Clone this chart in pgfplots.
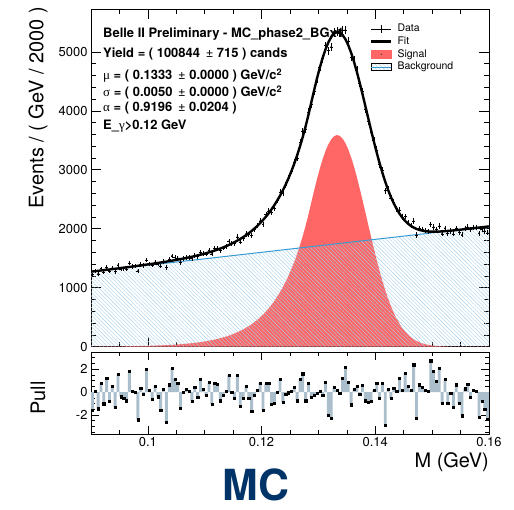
\documentclass[border=0pt]{standalone}
\usepackage{fontspec}
\setmainfont{TeX Gyre Heros}
\newfontfamily\greekf{Liberation Serif}
\usepackage{pgfplots}
\pgfplotsset{compat=1.18}
\usepackage{pgfplotstable}
\usetikzlibrary{patterns.meta}
\definecolor{sigred}{RGB}{255,102,102}
\definecolor{bkgblue}{RGB}{55,155,212}
\definecolor{hatchblue}{RGB}{165,208,232}
\definecolor{pullgray}{RGB}{170,190,204}
\definecolor{mcblue}{RGB}{0,52,104}
\pgfplotsset{/pgf/number format/assume math mode=true}

\pgfplotstableread{
x D p
0.09025 1221 -1.55
0.09075 1285 0.1
0.09125 1235 -1.45
0.09175 1322 0.8
0.09225 1263 -1.0
0.09275 1348 1.2
0.09325 1281 -0.8
0.09375 1337 0.55
0.09425 1275 -1.3
0.09475 1384 1.55
0.09525 1320 -0.4
0.09575 1323 -0.5
0.09625 1319 -0.75
0.09675 1419 1.8
0.09725 1361 0.05
0.09775 1366 0
0.09825 1283 -2.4
0.09875 1392 0.35
0.09925 1378 -0.2
0.09975 1468 2.0
0.10025 1406 0.2
0.10075 1384 -0.6
0.10125 1432 0.5
0.10175 1406 -0.4
0.10225 1368 -1.6
0.10275 1445 0.25
0.10325 1342 -2.65
0.10375 1476 0.65
0.10425 1539 2.1
0.10475 1512 1.15
0.10525 1507 0.8
0.10575 1432 -1.4
0.10625 1495 0
0.10675 1515 0.25
0.10725 1517 0.05
0.10775 1495 -0.8
0.10825 1552 0.4
0.10875 1530 -0.45
0.10925 1603 1.1
0.10975 1583 0.25
0.11025 1574 -0.3
0.11075 1634 0.85
0.11125 1573 -1.05
0.11175 1663 0.8
0.11225 1675 0.7
0.11275 1634 -0.75
0.11325 1674 -0.25
0.11375 1706 0.05
0.11425 1787 1.5
0.11475 1749 0
0.11525 1752 -0.5
0.11575 1864 1.5
0.11625 1776 -1.2
0.11675 1836 -0.5
0.11725 1912 0.5
0.11775 1904 -0.5
0.11825 1890 -1.65
0.11875 1992 -0.3
0.11925 2057 0.2
0.11975 2134 0.8
0.12025 2076 -1.55
0.12075 2239 0.75
0.12125 2302 0.8
0.12175 2279 -1.05
0.12225 2354 -0.95
0.12275 2479 0
0.12325 2618 1.1
0.12375 2610 -0.85
0.12425 2744 -0.15
0.12475 2858 -0.05
0.12525 2980 0.05
0.12575 3127 0.4
0.12625 3201 -0.75
0.12675 3462 1.15
0.12725 3655 1.6
0.12775 3693 -0.75
0.12825 3981 0.75
0.12875 4116 -0.45
0.12925 4336 -0.25
0.12975 4545 -0.1
0.13025 4739 0.05
0.13075 4884 -0.25
0.13125 5105 0.85
0.13175 5020 -2.0
0.13225 5085 -2.3
0.13275 5340 0.4
0.13325 5351 0.2
0.13375 5322 -0.1
0.13425 5374 1.2
0.13475 5375 2.2
0.13525 5178 0.9
0.13575 4909 -1.1
0.13625 4853 0.25
0.13675 4700 0.5
0.13725 4470 -0.15
0.13775 4324 0.6
0.13825 4035 -0.75
0.13875 3824 -0.9
0.13925 3630 -0.8
0.13975 3493 0.2
0.14025 3339 0.8
0.14075 3087 -0.5
0.14125 2991 0.75
0.14175 2646 -2.9
0.14225 2674 0.25
0.14275 2515 -0.5
0.14325 2448 0.35
0.14375 2341 0.05
0.14425 2315 1.2
0.14475 2200 0.2
0.14525 2210 1.65
0.14575 2111 0.5
0.14625 2059 0.2
0.14675 2130 2.4
0.14725 1895 -2.3
0.14775 2011 0.65
0.14825 1987 0.4
0.14875 1969 0.2
0.14925 1957 0.05
0.14975 2074 2.75
0.15025 2031 1.8
0.15075 1994 0.95
0.15125 2046 2.1
0.15175 1915 -0.95
0.15225 2009 1.1
0.15275 1922 -0.95
0.15325 1964 -0.1
0.15375 1915 -1.3
0.15425 2007 0.65
0.15475 1941 -0.95
0.15525 1897 -2.05
0.15575 2007 0.3
0.15625 2030 0.7
0.15675 1985 -0.45
0.15725 2019 0.2
0.15775 2018 0.05
0.15825 1922 -2.2
0.15875 1991 -0.8
0.15925 1964 -1.5
0.15975 1932 -2.35
}\datatab

\pgfplotstableread{
x S F
0.09000 2.6 1274
0.09025 2.7 1276
0.09075 2.9 1281
0.09125 3.2 1287
0.09175 3.5 1293
0.09225 3.8 1299
0.09275 4 1305
0.09325 4.5 1310
0.09375 5 1317
0.09425 5.5 1322
0.09475 6 1328
0.09525 6.5 1335
0.09575 7 1341
0.09625 8 1347
0.09675 8.5 1353
0.09725 9 1359
0.09775 10 1366
0.09825 11 1372
0.09875 12 1379
0.09925 13 1385
0.09975 15 1393
0.10025 16 1399
0.10075 17 1406
0.10125 19 1413
0.10175 21 1421
0.10225 23 1428
0.10275 25 1436
0.10325 27 1443
0.10375 29 1451
0.10425 32 1459
0.10475 35 1468
0.10525 38 1476
0.10575 42 1486
0.10625 46 1495
0.10675 50 1505
0.10725 55 1515
0.10775 60 1526
0.10825 65 1536
0.10875 71 1548
0.10925 78 1560
0.10975 85 1573
0.11025 93 1586
0.11075 101 1600
0.11125 111 1615
0.11175 121 1631
0.11225 132 1647
0.11275 144 1665
0.11325 158 1684
0.11375 172 1704
0.11425 188 1725
0.11475 206 1749
0.11525 225 1773
0.11575 246 1800
0.11625 268 1827
0.11675 293 1858
0.11725 320 1890
0.11775 350 1926
0.11825 382 1963
0.11875 418 2005
0.11925 456 2048
0.11975 499 2097
0.12025 545 2148
0.12075 595 2204
0.12125 650 2264
0.12175 710 2330
0.12225 776 2401
0.12275 848 2479
0.12325 926 2562
0.12375 1012 2654
0.12425 1105 2752
0.12475 1208 2861
0.12525 1319 2977
0.12575 1441 3105
0.12625 1575 3244
0.12675 1720 3395
0.12725 1879 3559
0.12775 2053 3739
0.12825 2243 3934
0.12875 2448 4145
0.12925 2651 4353
0.12975 2844 4552
0.13025 3023 4736
0.13075 3183 4902
0.13125 3321 5045
0.13175 3434 5164
0.13225 3517 5252
0.13275 3570 5311
0.13325 3590 5336
0.13375 3577 5329
0.13425 3530 5287
0.13475 3453 5216
0.13525 3346 5114
0.13575 3213 4987
0.13625 3057 4836
0.13675 2881 4666
0.13725 2690 4480
0.13775 2489 4285
0.13825 2282 4083
0.13875 2073 3880
0.13925 1866 3678
0.13975 1663 3481
0.14025 1470 3293
0.14075 1286 3115
0.14125 1116 2950
0.14175 959 2799
0.14225 816 2661
0.14275 689 2540
0.14325 575 2431
0.14375 477 2339
0.14425 391 2258
0.14475 318 2191
0.14525 256 2134
0.14575 204 2088
0.14625 161 2050
0.14675 127 2022
0.14725 98 1998
0.14775 76 1982
0.14825 58 1969
0.14875 43 1960
0.14925 33 1955
0.14975 24 1952
0.15025 18 1951
0.15075 13 1952
0.15125 9 1953
0.15175 7 1957
0.15225 5 1960
0.15275 3 1964
0.15325 2 1968
0.15375 1.5 1973
0.15425 1 1978
0.15475 0.5 1983
0.15525 0 1988
0.15575 0 1994
0.15625 0 1999
0.15675 0 2005
0.15725 0 2010
0.15775 0 2016
0.15825 0 2021
0.15875 0 2027
0.15925 0 2032
0.15975 0 2038
0.16000 0 2040
}\curvetab

\begin{document}
\begin{tikzpicture}
\useasboundingbox (0,0) rectangle (514bp,510bp);
% ---------------- main panel ----------------
\begin{axis}[
  at={(91bp,163.3bp)}, anchor=south west, scale only axis,
  width=398bp, height=337.2bp,
  xmin=0.09, xmax=0.16, ymin=0, ymax=5720,
  xtick={0.1,0.12,0.14,0.16},
  minor xtick={0.095,0.105,0.11,0.115,0.125,0.13,0.135,0.145,0.15,0.155},
  xticklabels={},
  ytick={0,1000,2000,3000,4000,5000}, minor y tick num=4,
  scaled x ticks=false, scaled y ticks=false,
  yticklabel style={font=\fontsize{13}{15}\selectfont, /pgf/number format/1000 sep={}},
  tick align=inside, major tick length=10bp, minor tick length=5bp,
  axis line style={line width=0.8bp}, tick style={black, line width=0.7bp},
  ylabel={Events / ( GeV / 2000 )},
  ylabel style={at={(axis description cs:-0.1332,1.0074)}, anchor=east, inner sep=0pt, font=\fontsize{20}{24}\selectfont},
  legend style={at={(axis description cs:0.701,0.957)}, anchor=north west, draw=none, fill=none,
    font=\fontsize{10.5}{12}\selectfont, inner sep=0pt, row sep=3.2bp, column sep=5bp,
    cells={anchor=west}, nodes={inner sep=0pt, text height=7.5bp, text depth=2bp}},
]
\addplot[fill=sigred, draw=none, forget plot] table[x=x,y=S]{\curvetab} \closedcycle;
\addplot[draw=none, pattern={Lines[angle=-45,distance=2.7bp,line width=0.4bp]}, pattern color=hatchblue, forget plot]
  coordinates {(0.09,1271) (0.16,2041)} \closedcycle;
\addplot[bkgblue, line width=1bp, forget plot] coordinates {(0.09,1271) (0.16,2041)};
\addplot[black, line width=2.4bp, forget plot] table[x=x,y=F]{\curvetab};
\addplot[black, only marks, mark=*, mark size=0.5bp, forget plot,
  error bars/.cd, x dir=both, x fixed=0.00025, y dir=both, y explicit,
  error bar style={line width=0.6bp,black}, error mark=none]
  table[x=x, y=D, y error expr=sqrt(\thisrow{D})]{\datatab};
\addlegendimage{legend image code/.code={\draw[black,line width=0.6bp] (0bp,0bp) -- (20bp,0bp); \draw[black,line width=0.6bp] (10bp,-4bp) -- (10bp,4bp);}}
\addlegendentry{Data}
\addlegendimage{legend image code/.code={\draw[black,line width=2.4bp] (0bp,0bp) -- (20bp,0bp);}}
\addlegendentry{Fit}
\addlegendimage{legend image code/.code={\fill[sigred] (0bp,-4bp) rectangle (20bp,4bp); \fill[black!70] (10bp,0bp) circle (0.5bp);}}
\addlegendentry{Signal}
\addlegendimage{legend image code/.code={\fill[pattern={Lines[angle=-45,distance=2.7bp,line width=0.4bp]}, pattern color=hatchblue] (0bp,-3.5bp) rectangle (20bp,3.5bp); \draw[bkgblue,line width=1bp] (0bp,0bp) -- (20bp,0bp);}}
\addlegendentry{Background}
\end{axis}
% ---------------- pull panel ----------------
\begin{axis}[
  at={(91bp,76bp)}, anchor=south west, scale only axis,
  width=398bp, height=82bp,
  xmin=0.09, xmax=0.16, ymin=-3.65, ymax=3.5,
  xtick={0.1,0.12,0.14,0.16},
  minor xtick={0.095,0.105,0.11,0.115,0.125,0.13,0.135,0.145,0.15,0.155},
  ytick={-2,0,2},
  minor ytick={-3.5,-3,-2.5,-1.5,-1,-0.5,0.5,1,1.5,2.5,3,3.5},
  scaled x ticks=false, scaled y ticks=false,
  xticklabel style={font=\fontsize{13}{15}\selectfont, /pgf/number format/fixed},
  yticklabel style={font=\fontsize{13}{15}\selectfont},
  tick align=inside, major tick length=8bp, minor tick length=4bp,
  axis line style={line width=0.8bp}, tick style={black, line width=0.7bp},
  ylabel={Pull},
  ylabel style={at={(axis description cs:-0.1332,0.646)}, anchor=east, inner sep=0pt, font=\fontsize{20}{24}\selectfont},
  xlabel={M (GeV)},
  xlabel style={at={(axis description cs:1,0)}, anchor=north east, yshift=-18bp, inner sep=0pt, font=\fontsize{20}{24}\selectfont},
]
\addplot[ybar, bar width=0.0005, bar shift=0pt, fill=pullgray, draw=none] table[x=x,y=p]{\datatab};
\addplot[black, only marks, mark=square*, mark size=1.1bp] table[x=x,y=p]{\datatab};
\end{axis}
% ---------------- text box ----------------
\begin{scope}[every node/.style={anchor=base west, inner sep=0pt, font=\bfseries\fontsize{13}{15}\selectfont}]
\node at (103bp,472.7bp) {Belle II Preliminary - MC\_phase2\_BGx1};
\node at (103bp,452.7bp) {Yield = ( 100844 \,{\mdseries ±} 715 ) cands};
\node at (103bp,430bp) {{\greekf\mdseries μ} = ( 0.1333 \,{\mdseries ±} 0.0000 ) GeV/c\textsuperscript{2}};
\node at (103bp,413.3bp) {{\greekf\mdseries σ} = ( 0.0050 \,{\mdseries ±} 0.0000 ) GeV/c\textsuperscript{2}};
\node at (103bp,398.3bp) {{\greekf\mdseries α} = ( 0.9196 \,{\mdseries ±} 0.0204 )};
\node at (103bp,380bp) {E\_{\greekf\mdseries γ}>0.12 GeV};
\end{scope}
\node[anchor=base, inner sep=0pt, text=mcblue, font=\bfseries\fontsize{43}{48}\selectfont] at (255.8bp,9.5bp) {MC};
\end{tikzpicture}
\end{document}
